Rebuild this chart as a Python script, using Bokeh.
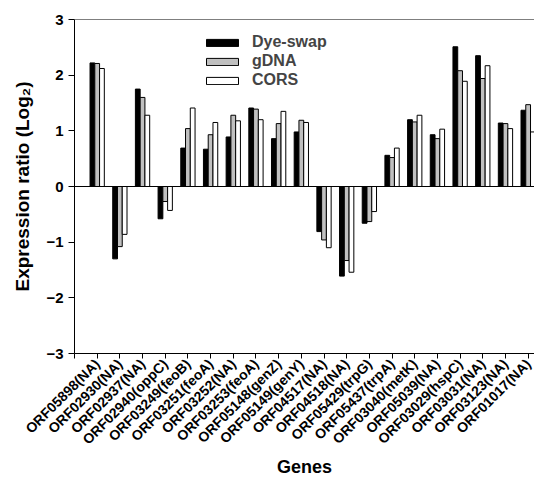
import math
from bokeh.plotting import figure
from bokeh.models import Range1d, FixedTicker, Span, ColumnDataSource
from bokeh.embed import file_html
from bokeh.resources import INLINE

genes = ["ORF05898(NA)", "ORF02930(NA)", "ORF02937(NA)", "ORF02940(oppC)", "ORF03249(feoB)",
         "ORF03251(feoA)", "ORF03252(NA)", "ORF03253(feoA)", "ORF05148(genZ)", "ORF05149(genY)",
         "ORF04517(NA)", "ORF04518(NA)", "ORF05429(trpG)", "ORF05437(trpA)", "ORF03040(metK)",
         "ORF05039(NA)", "ORF03029(hspC)", "ORF03031(NA)", "ORF03123(NA)", "ORF01017(NA)"]
dye_swap = [2.22, -1.30, 1.75, -0.58, 0.69, 0.67, 0.89, 1.41, 0.86, 0.98,
            -0.81, -1.61, -0.66, 0.56, 1.20, 0.93, 2.51, 2.35, 1.14, 1.37]
gdna = [2.21, -1.08, 1.60, -0.27, 1.04, 0.93, 1.28, 1.39, 1.13, 1.19,
        -0.96, -1.33, -0.63, 0.52, 1.16, 0.86, 2.08, 1.94, 1.13, 1.47]
cors = [2.12, -0.86, 1.28, -0.43, 1.41, 1.15, 1.18, 1.20, 1.35, 1.15,
        -1.10, -1.54, -0.45, 0.69, 1.28, 1.03, 1.89, 2.17, 1.04, 0.98]
y_ticks = [-3, -2, -1, 0, 1, 2, 3]
x_title = "Genes"
y_title = "Expression ratio (Log\u2082)"

FONT = "Liberation Sans"
pos = list(range(1, len(genes) + 1))
bw = 0.21
X_END = 20.28
Y_MIN, Y_MAX = -3, 3

W, H = 534, 480
LEFT, TOP, BOTTOM = 74, 19, 127

p = figure(width=W, height=H, x_range=Range1d(0, X_END), y_range=Range1d(Y_MIN, Y_MAX),
           output_backend="svg", toolbar_location=None,
           min_border_left=LEFT, min_border_right=0, min_border_top=TOP, min_border_bottom=BOTTOM)
p.outline_line_color = None
p.xgrid.visible = False
p.ygrid.visible = False
p.background_fill_color = "white"
p.border_fill_color = "white"

series = [(dye_swap, "#000000", "Dye-swap", -bw), (gdna, "#c0c0c0", "gDNA", 0.0), (cors, "#ffffff", "CORS", bw)]
for vals, col, name, off in series:
    src = ColumnDataSource(dict(x=[v + off for v in pos], top=vals))
    p.vbar(x="x", top="top", bottom=0, width=bw, source=src, fill_color=col,
           line_color="black", line_width=1, legend_label=name)

p.add_layout(Span(location=0, dimension="width", line_color="black", line_width=1))
p.add_layout(Span(location=Y_MAX, dimension="width", line_color="black", line_width=1.2))

# x axis
p.xaxis.ticker = FixedTicker(ticks=[0] + pos)
ov = {0: ""}
for i, g in zip(pos, genes):
    ov[i] = g
p.xaxis.major_label_overrides = ov
p.xaxis.major_label_orientation = math.pi / 4
p.xaxis.major_label_text_font = FONT
p.xaxis.major_label_text_font_size = "14px"
p.xaxis.major_label_text_font_style = "bold"
p.xaxis.major_label_standoff = 3
p.xaxis.major_tick_in = 0
p.xaxis.major_tick_out = 5
p.xaxis.minor_tick_line_color = None
p.xaxis.axis_label = x_title
p.xaxis.axis_label_text_font = FONT
p.xaxis.axis_label_text_font_size = "18px"
p.xaxis.axis_label_text_font_style = "bold"
p.xaxis.axis_label_standoff = 1

# y axis
p.yaxis.ticker = FixedTicker(ticks=y_ticks)
p.yaxis.major_label_text_font = FONT
p.yaxis.major_label_text_font_size = "15px"
p.yaxis.major_label_text_font_style = "bold"
p.yaxis.major_label_standoff = 5
p.yaxis.major_tick_in = 0
p.yaxis.major_tick_out = 6
p.yaxis.minor_tick_line_color = None
p.yaxis.axis_label = y_title
p.yaxis.axis_label_text_font = FONT
p.yaxis.axis_label_text_font_size = "19px"
p.yaxis.axis_label_text_font_style = "bold"
p.yaxis.axis_label_standoff = 10

for ax in (p.xaxis, p.yaxis):
    ax.axis_line_color = "black"
    ax.major_tick_line_color = "black"
    ax.major_label_text_color = "black"
    ax.axis_label_text_color = "black"

lg = p.legend[0]
lg.location = (128, 264)
lg.border_line_color = None
lg.background_fill_alpha = 0
lg.glyph_width = 40
lg.glyph_height = 9
lg.label_standoff = 10
lg.label_text_font = FONT
lg.label_text_font_size = "16px"
lg.label_text_font_style = "bold"
lg.label_height = 18
lg.spacing = 1
lg.padding = 0
lg.margin = 0

open("out.html", "w").write(file_html(p, INLINE))
